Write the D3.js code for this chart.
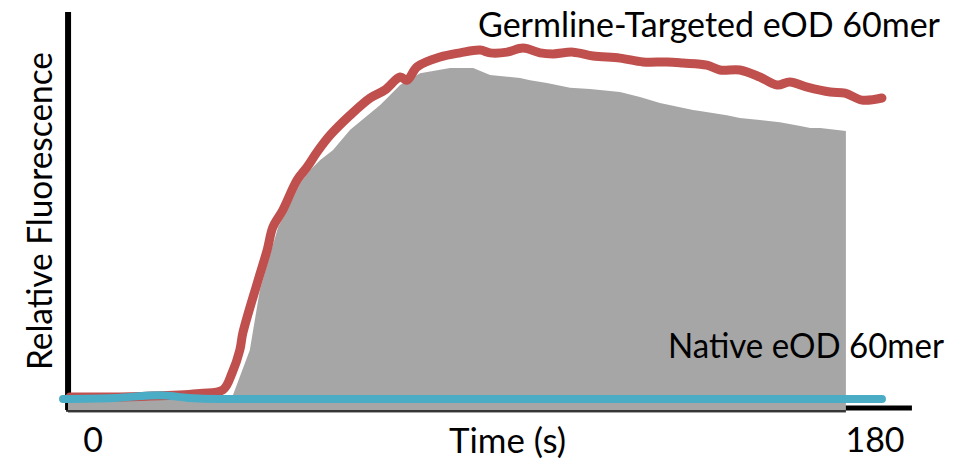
<!DOCTYPE html>
<html>
<head>
<meta charset="utf-8">
<script src="https://cdn.jsdelivr.net/npm/d3@7"></script>
<style>
  html, body { margin: 0; padding: 0; background: #fff; }
  svg { display: block; }
  text { font-family: Lato, "Open Sans", sans-serif; fill: #000; }
</style>
</head>
<body>
<svg id="chart" width="967" height="460"></svg>
<script>
// ---- data (time in s, relative fluorescence in %) ----
const germlineTime = [-5.3, 6.2, 15.4, 24.6, 29.9, 32.0, 33.8, 34.5, 37.8, 40.1, 41.4, 43.7, 47.0, 49.3, 51.6, 54.6, 59.2, 63.8, 67.2, 70.7, 72.3, 74.6, 79.9, 84.5, 89.1, 91.4, 95.3, 99.0, 102.9, 105.9, 110.5, 115.1, 121.3, 126.6, 132.1, 135.8, 141.3, 144.3, 148.9, 153.5, 157.5, 160.4, 164.4, 169.7, 173.1, 177.0, 181.6];
const germlineValue = [0.6, 0.6, 0.9, 1.6, 2.6, 7.4, 14.0, 18.9, 33.1, 42.6, 49.1, 54.0, 62.6, 66.3, 70.6, 75.4, 81.1, 86.0, 88.3, 92.0, 91.1, 94.9, 97.7, 98.9, 99.7, 98.9, 99.1, 100.3, 98.9, 98.6, 99.1, 98.0, 97.4, 96.3, 96.3, 96.0, 95.4, 94.0, 94.0, 92.0, 89.7, 90.6, 89.1, 87.7, 87.4, 85.4, 86.0];

const areaTime = [-5.75, 30.4, 32.2, 36.1, 38.4, 42.6, 45.3, 47.7, 50.0, 52.3, 55.2, 59.2, 66.1, 70.7, 75.3, 82.2, 87.5, 91.4, 93.7, 98.3, 100.6, 104.5, 109.8, 114.4, 121.3, 125.9, 130.5, 138.1, 139.7, 145.9, 148.9, 153.5, 158.1, 162.8, 165.1, 167.4, 173.3];
const areaValue = [0, 0, 1.1, 14.0, 31.1, 49.1, 55.4, 61.7, 65.4, 68.3, 71.1, 76.9, 84.0, 89.7, 93.1, 94.6, 94.6, 92.6, 92.3, 91.7, 91.1, 90.3, 88.9, 88.6, 87.7, 86.3, 84.6, 82.6, 82.3, 81.1, 80.3, 79.7, 79.1, 78.0, 77.4, 77.4, 76.6];

const nativeTime = [-6.9, 5.0, 15.4, 22.0, 29.0, 60.0, 120.0, 181.6];
const nativeValue = [0.0, 0.3, 1.1, 0.3, 0.0, 0.0, 0.0, 0.0];

const xTickLabels = ["0", "180"];
const xTickValues = [0, 180];
const xAxisTitle = "Time (s)";
const yAxisTitle = "Relative Fluorescence";
const germlineLabel = "Germline-Targeted eOD 60mer";
const nativeLabel = "Native eOD 60mer";
const xAxisExtent = [-6.2, 188.5];

// ---- drawing ----
const svg = d3.select("#chart");
const x = d3.scaleLinear().domain([0, 180]).range([93, 875]);
const y = d3.scaleLinear().domain([0, 100]).range([399, 49]);
const base = y(0);

const germline = germlineTime.map((t, i) => ({t, v: germlineValue[i]}));
const area = areaTime.map((t, i) => ({t, v: areaValue[i]}));
const native = nativeTime.map((t, i) => ({t, v: nativeValue[i]}));

// axes (hand-drawn look)
svg.append("line")
  .attr("x1", x(xAxisExtent[0]) + 2).attr("x2", x(xAxisExtent[0]) + 2)
  .attr("y1", 12).attr("y2", base + 11)
  .attr("stroke", "#000").attr("stroke-width", 6);
svg.append("line")
  .attr("x1", x(xAxisExtent[0])).attr("x2", x(xAxisExtent[1]))
  .attr("y1", base + 9).attr("y2", base + 9)
  .attr("stroke", "#000").attr("stroke-width", 5);

// grey area
svg.append("path")
  .datum(area)
  .attr("fill", "#a6a6a6")
  .attr("d", d3.area().x(d => x(d.t)).y0(base + 14).y1(d => y(d.v)));
svg.append("line")
  .attr("x1", x(xAxisExtent[0])).attr("x2", x(areaTime[areaTime.length - 1]))
  .attr("y1", base + 12).attr("y2", base + 12)
  .attr("stroke", "#111").attr("stroke-width", 1.5);

// germline line
svg.append("path")
  .datum(germline)
  .attr("fill", "none")
  .attr("stroke", "#c0504d")
  .attr("stroke-width", 9)
  .attr("stroke-linecap", "round")
  .attr("stroke-linejoin", "round")
  .attr("d", d3.line().x(d => x(d.t)).y(d => y(d.v)).curve(d3.curveCatmullRom.alpha(0.5)));

// native line
svg.append("path")
  .datum(native)
  .attr("fill", "none")
  .attr("stroke", "#4bacc6")
  .attr("stroke-width", 8)
  .attr("stroke-linecap", "round")
  .attr("stroke-linejoin", "round")
  .attr("d", d3.line().x(d => x(d.t)).y(d => y(d.v)).curve(d3.curveMonotoneX));

// text
const fs = 34;
function label(txt, xx, yy, len, anchor) {
  return svg.append("text")
    .attr("x", xx).attr("y", yy)
    .attr("font-size", fs)
    .attr("text-anchor", anchor || "start")
    .attr("textLength", len)
    .attr("lengthAdjust", "spacingAndGlyphs")
    .text(txt);
}
label(germlineLabel, 478, 37, 462);
label(nativeLabel, 668, 358, 276);
label(xAxisTitle, 449, 453, 117);
svg.selectAll("text.tick").data(xTickValues).enter().append("text")
  .attr("class", "tick")
  .attr("x", d => x(d)).attr("y", 452)
  .attr("font-size", fs)
  .attr("text-anchor", "middle")
  .text((d, i) => xTickLabels[i]);
svg.append("text")
  .attr("transform", "translate(52,370) rotate(-90)")
  .attr("font-size", fs)
  .attr("textLength", 318)
  .attr("lengthAdjust", "spacingAndGlyphs")
  .text(yAxisTitle);
</script>
</body>
</html>
